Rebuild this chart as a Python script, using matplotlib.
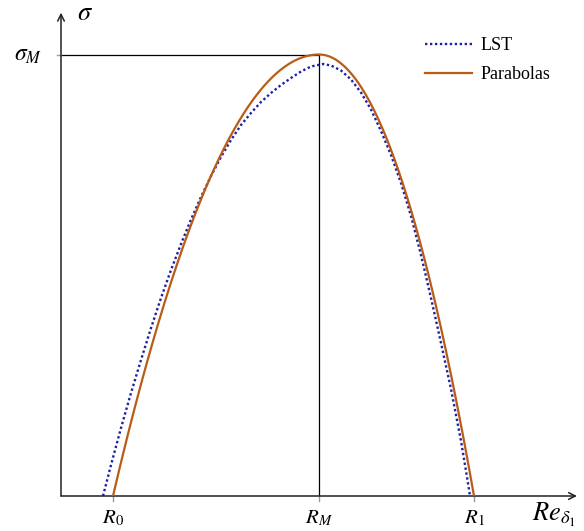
import numpy as np
import matplotlib
matplotlib.use("Agg")
import matplotlib.pyplot as plt

plt.rcParams['mathtext.fontset'] = 'stix'
plt.rcParams['font.family'] = ['Liberation Serif', 'DejaVu Serif']

# --- data (abstract units) ---
R0, RM, R1 = 52.0, 258.0, 413.0
sigma_M = 441.5
tick_labels = [r'$R_0$', r'$R_M$', r'$R_1$']

lst_x = [42, 50, 60, 70, 80, 90, 100, 110, 120, 130, 140, 150, 160, 170, 180,
         190, 200, 210, 220, 230, 240, 250, 262, 270, 280, 290, 300, 310, 320,
         330, 340, 350, 360, 370, 380, 390, 400, 406, 409]
lst_y = [0, 31, 68, 103, 136, 168, 198, 226, 252, 276.5, 299, 320, 339, 356, 371,
         383, 394, 403, 411, 418, 424.5, 429.5, 432, 430.5, 425.5, 416.5, 403.5, 386.5, 365,
         341, 313, 280, 241, 198, 153, 107, 55, 19, 0]

# Parabolas: two half-parabolas joined at (RM, sigma_M)
xl = np.linspace(R0, RM, 200)
yl = sigma_M * (1 - ((xl - RM) / (RM - R0)) ** 2)
xr = np.linspace(RM, R1, 200)
yr = sigma_M * (1 - ((xr - RM) / (R1 - RM)) ** 2)
par_x = np.concatenate([xl, xr])
par_y = np.concatenate([yl, yr])

W, H = 584, 531
fig = plt.figure(figsize=(W / 100, H / 100), dpi=100)
ax = fig.add_axes([61 / W, (H - 496) / H, (577 - 61) / W, (496 - 12.7) / H])
ax.set_xlim(0, 516)
ax.set_ylim(0, 483.3)
for s in ax.spines.values():
    s.set_visible(False)
ax.set_xticks([])
ax.set_yticks([])

blue = '#1f1fa6'
brown = '#b85c16'

ax.plot(lst_x, lst_y, color=blue, lw=1.7, linestyle=(0, (1, 1.1)), label='LST', zorder=3)
ax.plot(par_x, par_y, color=brown, lw=1.6, label='Parabolas', zorder=4)

# guide lines
ax.plot([0, RM], [sigma_M, sigma_M], color='black', lw=0.9, zorder=2)
ax.plot([RM, RM], [0, sigma_M], color='black', lw=0.9, zorder=2)

# axes arrows
for end in [(1.0, 0), (0, 1.0)]:
    ax.annotate('', xy=end, xycoords='axes fraction', xytext=(0, 0),
                textcoords='axes fraction',
                arrowprops=dict(arrowstyle='->', color='#222222', lw=1.1,
                                shrinkA=0, shrinkB=0, mutation_scale=12),
                annotation_clip=False)

# small ticks
for xv, lab in zip([R0, RM, R1], tick_labels):
    ax.plot([xv, xv], [0, -5], color='#999999', lw=1.0, clip_on=False)
    ax.text(xv, -13, lab, ha='center', va='top', fontsize=15)
ax.plot([-4, 0], [sigma_M, sigma_M], color='#999999', lw=1.0, clip_on=False)

ax.text(-19, sigma_M - 1, r'$\sigma_M$', ha='right', va='center', fontsize=17)
ax.text(24, 483.3 - 1, r'$\sigma$', ha='center', va='center', fontsize=19)
ax.text(515, -19, r'$Re_{\delta_1}$', ha='right', va='center', fontsize=19)

leg = ax.legend(loc='upper left', bbox_to_anchor=(425 / W, (H - 37) / H),
                bbox_transform=fig.transFigure, frameon=False, fontsize=13,
                handlelength=2.6, handletextpad=0.45, labelspacing=0.68,
                borderpad=0, borderaxespad=0)

fig.savefig('out.png', dpi=100)
